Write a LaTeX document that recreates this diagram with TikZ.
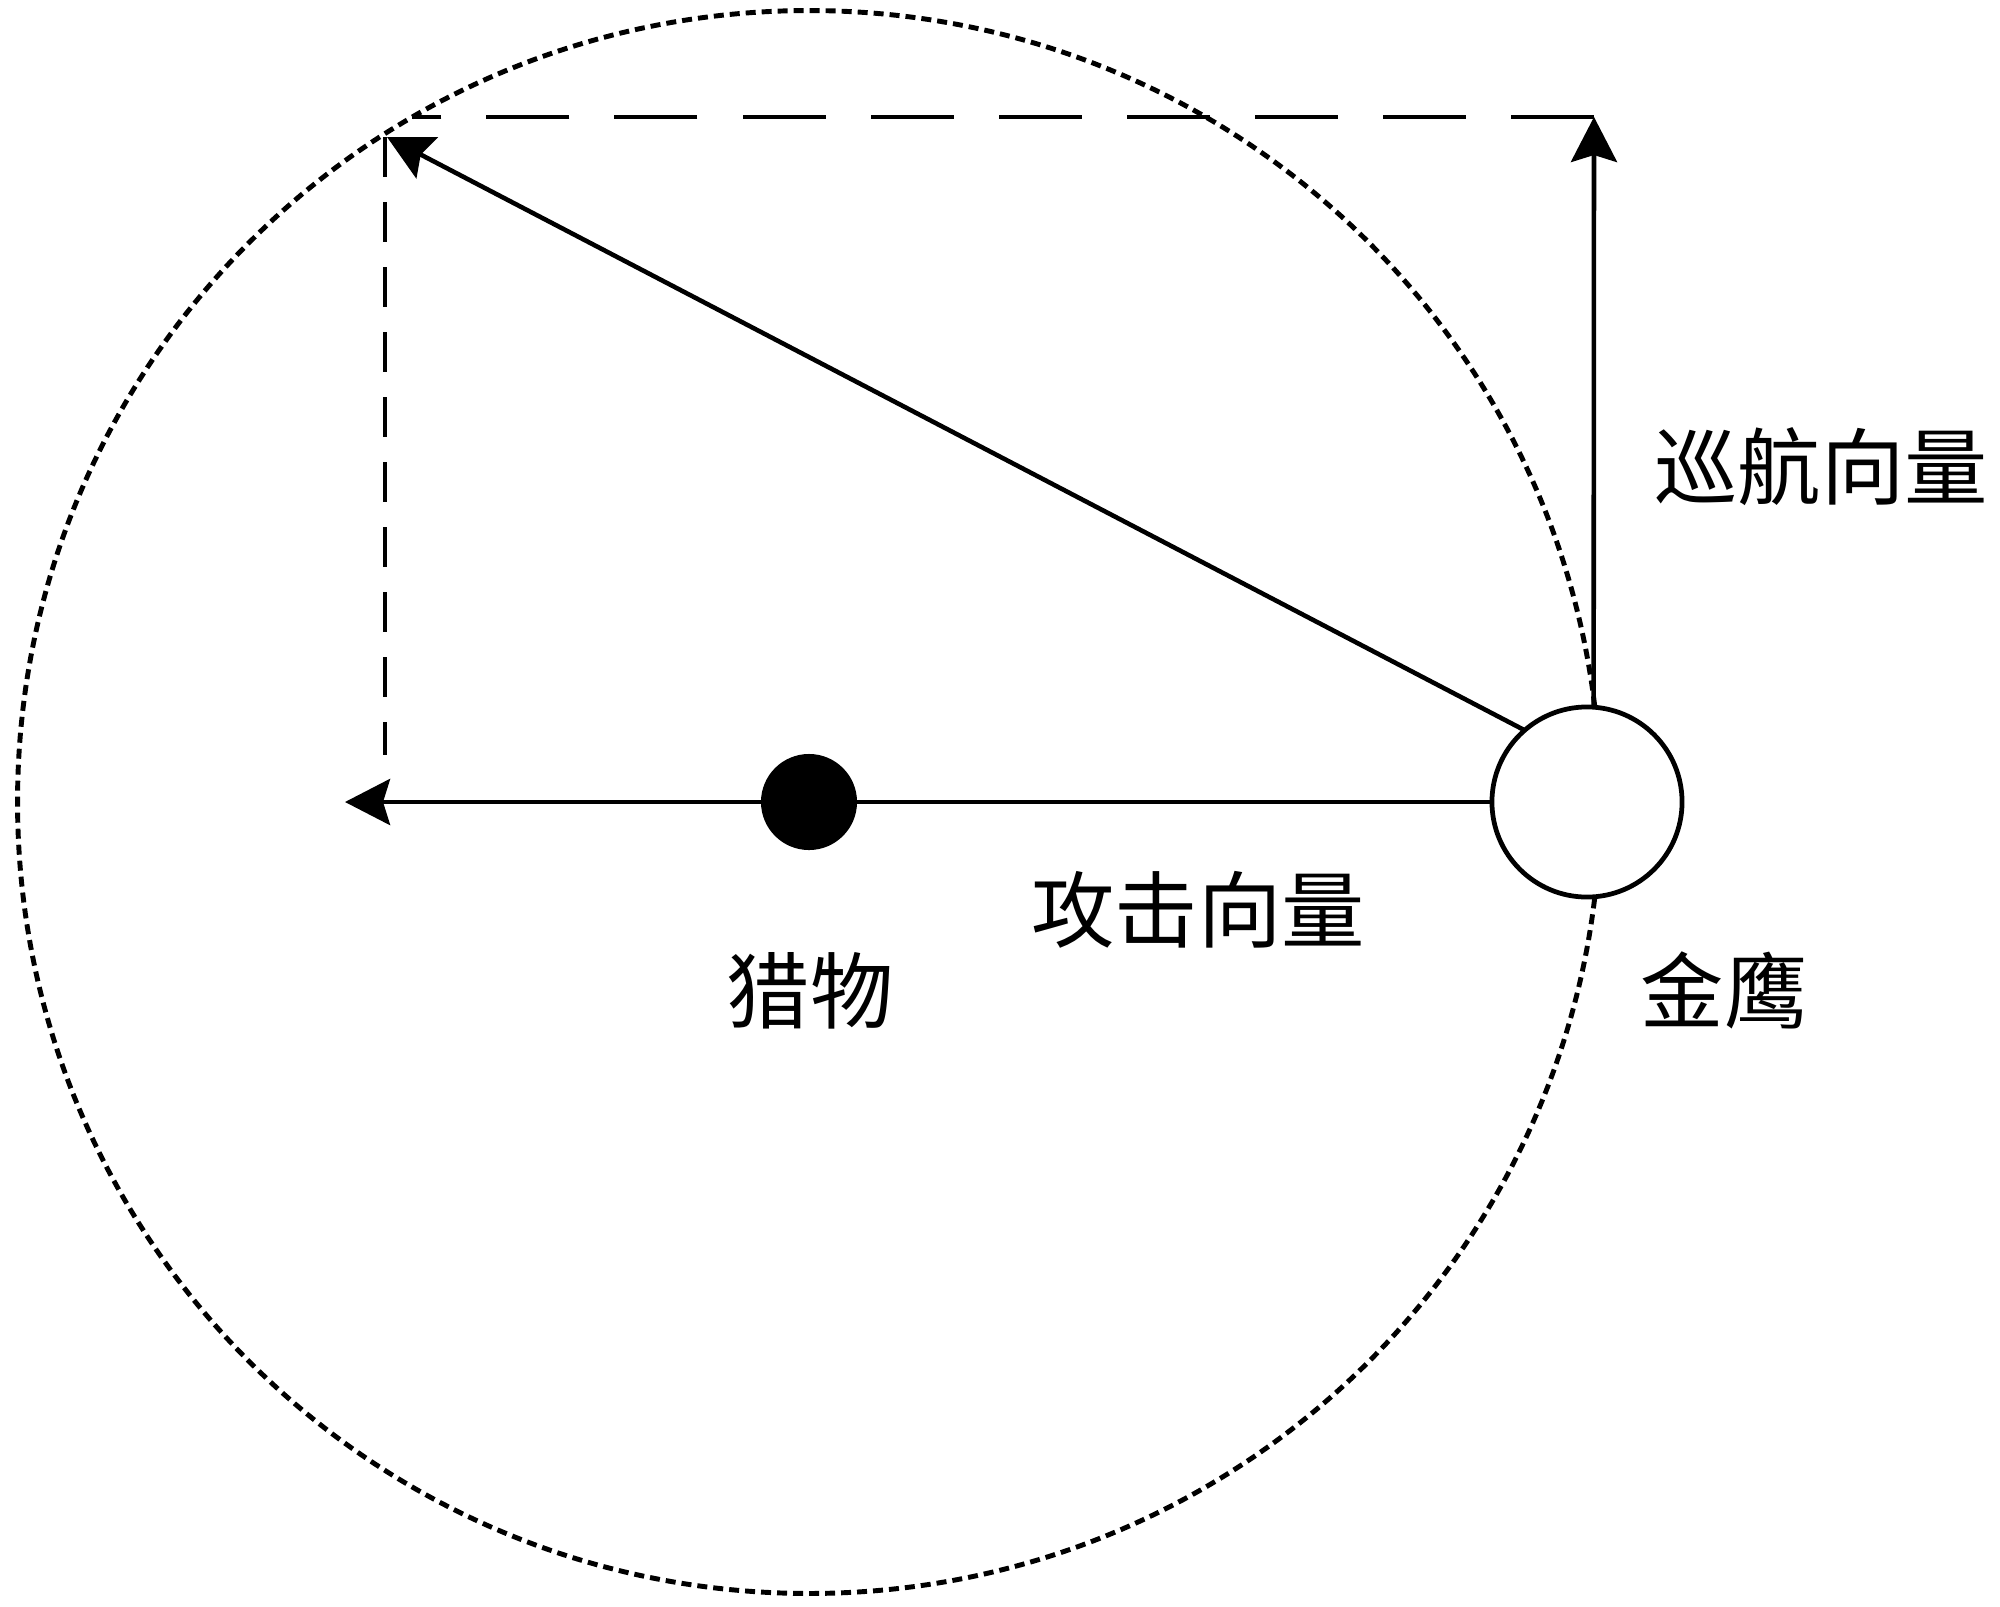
\documentclass[tikz,border=0pt]{standalone}
\usepackage{fontspec}
\newfontfamily\cjk{Noto Sans CJK SC}
\usetikzlibrary{arrows.meta}
\begin{document}
\begin{tikzpicture}[x=0.01cm,y=-0.01cm,
  vecline/.style={line width=1.3pt},
  vectip/.style={vecline,-{Stealth[length=0.45cm,width=0.46cm,inset=0.07cm]}},
  dashH/.style={line width=1.3pt,dash pattern=on 0.83cm off 0.45cm},
  dashV/.style={line width=1.3pt,dash pattern=on 0.40cm off 0.25cm},
  dotring/.style={line width=1.4pt,dash pattern=on 0.10cm off 0.06cm},
  lbl/.style={font=\cjk\fontsize{23.7pt}{28pt}\selectfont,inner sep=0pt,outer sep=0pt}]
\useasboundingbox (0,0) rectangle (2000,1606);
\coordinate (pc) at (809,802);
\draw[dotring] (pc) circle [radius=7.91cm];
\node[circle,fill=black,minimum size=0.96cm,inner sep=0pt,outer sep=0pt] (prey) at (pc) {};
\node[circle,draw,fill=white,line width=1.35pt,minimum size=1.9cm,inner sep=0pt,outer sep=0pt] (eagle) at (1587,802) {};
\coordinate (lefttip) at (345,802);
\coordinate (cruisetip) at (1594,117);
\coordinate (diagtip) at (387,137);
\coordinate (hdashend) at (412,117);
\coordinate (vdashtop) at (385,137);
\coordinate (vdashbot) at (385,755);
% attack vector
\draw[vectip] (eagle.west) -- (lefttip);
% cruise vector
\draw[vectip] (eagle.86) -- (cruisetip);
% resultant
\draw[vectip] (eagle.131) -- (diagtip);
% dashed helpers
\draw[dashH] (cruisetip) -- (hdashend);
\draw[dashV] (vdashtop) -- (vdashbot);
% labels
\node[lbl] (lcruise) at (1821,467) {巡航向量};
\node[lbl] (lattack) at (1198,910) {攻击向量};
\node[lbl] (lprey) at (810,991) {猎物};
\node[lbl] (leagle) at (1724,990) {金鹰};
\end{tikzpicture}
\end{document}
